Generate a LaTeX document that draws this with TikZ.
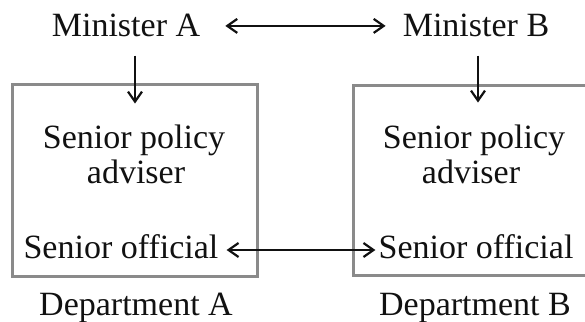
\documentclass[tikz,border=0pt]{standalone}
\usepackage{fontspec}
\setmainfont{Liberation Serif}
\usetikzlibrary{arrows.meta}
\definecolor{framegray}{HTML}{8A8A8A}
\definecolor{inkblack}{HTML}{111111}
\begin{document}
\begin{tikzpicture}[x=1pt,y=-1pt,
  lbl/.style={anchor=base,inner sep=0pt,text=inkblack,font=\fontsize{34}{40}\selectfont},
  deptbox/.style={draw=framegray,line width=3pt,inner sep=0pt},
  link/.style={draw=inkblack,line width=2.2pt,-{Straight Barb[length=10pt,width=14pt]}},
  twoway/.style={draw=inkblack,line width=2.2pt,{Straight Barb[length=10pt,width=14pt]}-{Straight Barb[length=10pt,width=14pt]}}
]
\useasboundingbox (0,0) rectangle (585,321);

% department frames
\node[deptbox,minimum width=245pt,minimum height=192pt] (boxA) at (134.5,180) {};
\node[deptbox,minimum width=240pt,minimum height=190pt] (boxB) at (473,180) {};

% ministers
\node[lbl] (minA) at (126,37) {Minister A};
\node[lbl] (minB) at (476,37) {Minister B};

% department contents
\node[lbl] (polA) at (134,148) {Senior policy};
\node[lbl] (advA) at (136,183) {adviser};
\node[lbl] (offA) at (121,258) {Senior official};
\node[lbl] (polB) at (474,148) {Senior policy};
\node[lbl] (advB) at (471,183) {adviser};
\node[lbl] (offB) at (476,258) {Senior official};

% department captions
\node[lbl] (depA) at (136,315) {Department A};
\node[lbl] (depB) at (475,315) {Department B};

% connectors
\draw[twoway,shorten <=25pt,shorten >=17pt] (minA.east) -- (minB.west);
\draw[link] (minA.south) ++(9,18) -- ++(0,48);
\draw[link] (minB.south) ++(2,18) -- ++(0,47);
\draw[twoway] ([shift={(8,-8)}]offA.base east) -- ([shift={(-3,-8)}]offB.base west);
\end{tikzpicture}
\end{document}
